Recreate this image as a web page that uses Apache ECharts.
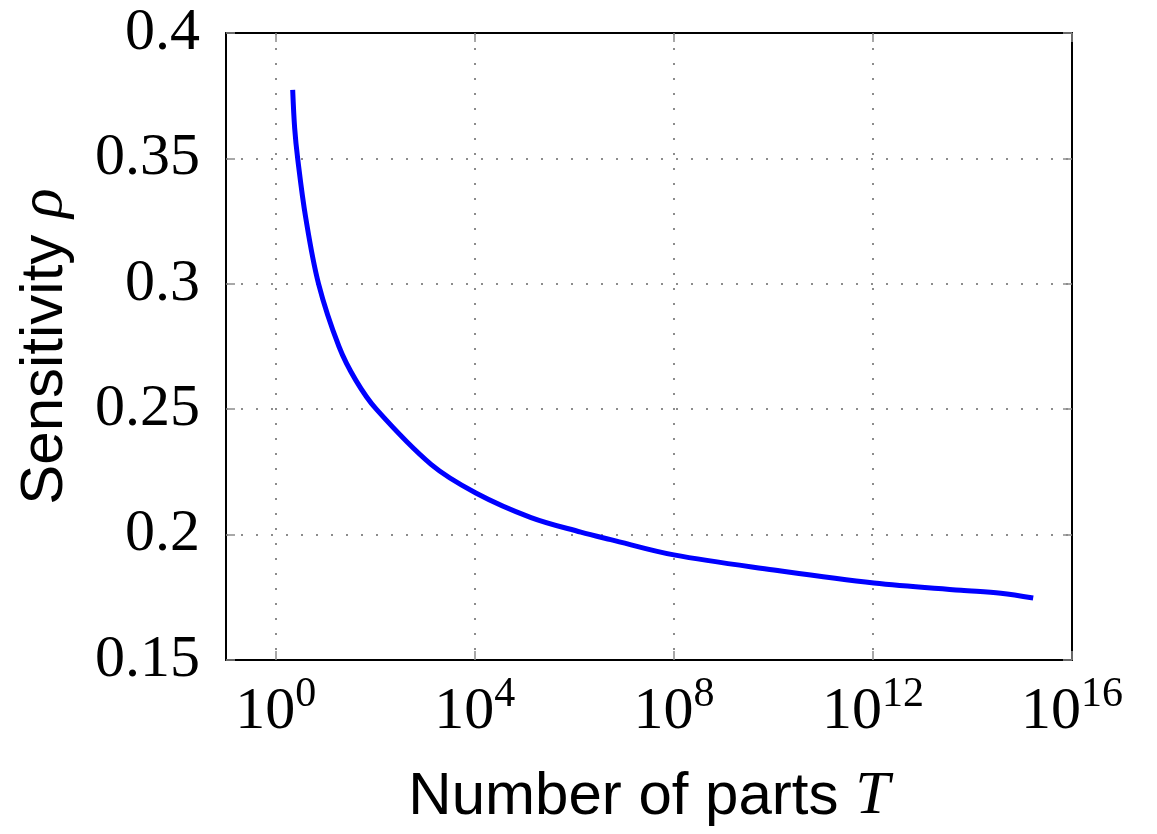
<!DOCTYPE html>
<html>
<head>
<meta charset="utf-8">
<script src="https://cdn.jsdelivr.net/npm/echarts@6/dist/echarts.min.js"></script>
<style>
  html, body { margin: 0; padding: 0; background: #fff; }
  #chart { width: 1157px; height: 834px; }
</style>
</head>
<body>
<div id="chart"></div>
<script>
// log10(T) and sensitivity
const logT = [0.34, 0.38, 0.44, 0.60, 0.86, 1.27, 1.61, 2.02, 3.12, 4.02, 5.13, 6.13, 6.73, 8.0, 10.01, 12.02, 13.77, 14.57, 15.22]
const rho = [0.3773, 0.362, 0.35, 0.3266, 0.30, 0.275, 0.2615, 0.25, 0.228, 0.2166, 0.2068, 0.201, 0.198, 0.1919, 0.1859, 0.1807, 0.1778, 0.1766, 0.1747]
// tick exponents on the x axis
const xTicks = [0, 4, 8, 12, 16]

const serif = 'Liberation Serif'
const sans = 'Liberation Sans'
const gridColor = '#8c8c8c'

let chart = echarts.init(document.getElementById('chart'))

const tickStyle = { show: true, inside: true, length: 9, lineStyle: { color: gridColor, width: 1.5 } }
const lineStyle = { show: true, onZero: false, lineStyle: { color: '#000', width: 2 } }
const splitStyle = { show: true, lineStyle: { color: gridColor, width: 2, type: [2, 13] } }
const nameStyle = {
  fontFamily: sans,
  fontSize: 60,
  color: '#000',
  rich: { i: { fontFamily: serif, fontStyle: 'italic', fontSize: 62, color: '#000' } }
}

let option = {
  animation: false,
  grid: { left: 226, right: 85, top: 33, bottom: 174 },
  xAxis: [
    {
      type: 'value',
      min: -1,
      max: 16,
      axisLine: lineStyle,
      axisTick: Object.assign({ customValues: xTicks }, tickStyle),
      splitLine: splitStyle,
      axisLabel: {
        customValues: xTicks,
        margin: 14,
        formatter: v => '{b|10}{s|' + v + '}',
        rich: {
          b: { fontFamily: serif, fontSize: 60, color: '#000', verticalAlign: 'bottom', padding: [8, 0, 0, 0] },
          s: { fontFamily: serif, fontSize: 42, color: '#000', verticalAlign: 'top' }
        }
      },
      name: 'Number of parts {i|T}',
      nameLocation: 'middle',
      nameGap: 106,
      nameTextStyle: nameStyle
    },
    {
      type: 'value',
      position: 'top',
      min: -1,
      max: 16,
      axisLine: lineStyle,
      axisTick: Object.assign({ customValues: xTicks }, tickStyle),
      axisLabel: { show: false },
      splitLine: { show: false }
    }
  ],
  yAxis: [
    {
      type: 'value',
      min: 0.15,
      max: 0.4,
      interval: 0.05,
      axisLine: lineStyle,
      axisTick: tickStyle,
      splitLine: splitStyle,
      axisLabel: {
        margin: 26,
        fontFamily: serif,
        fontSize: 60,
        color: '#000',
        formatter: v => String(+v.toFixed(2))
      },
      name: 'Sensitivity {i|ρ}',
      nameLocation: 'middle',
      nameGap: 150,
      nameTextStyle: nameStyle
    },
    {
      type: 'value',
      position: 'right',
      min: 0.15,
      max: 0.4,
      interval: 0.05,
      axisLine: lineStyle,
      axisTick: tickStyle,
      axisLabel: { show: false },
      splitLine: { show: false }
    }
  ],
  series: [
    {
      type: 'line',
      data: logT.map((x, i) => [x, rho[i]]),
      showSymbol: false,
      smooth: 0.35,
      lineStyle: { color: '#0000ff', width: 5 }
    }
  ]
}

chart.setOption(option)
</script>
</body>
</html>
